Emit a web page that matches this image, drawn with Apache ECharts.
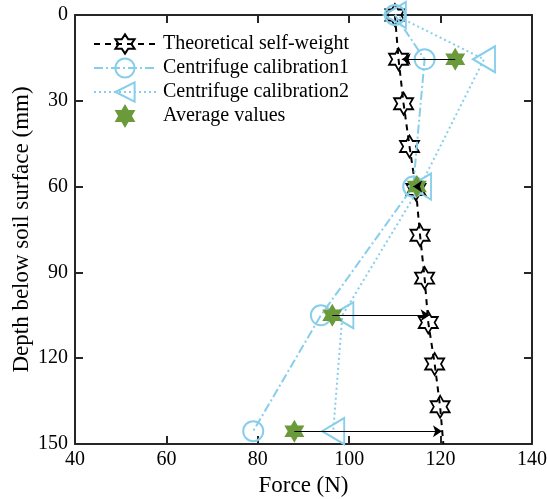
<!DOCTYPE html>
<html>
<head>
<meta charset="utf-8">
<script src="https://cdn.jsdelivr.net/npm/echarts@6/dist/echarts.min.js"></script>
<style>
html,body{margin:0;padding:0;background:#fff;}
#c{width:547px;height:499px;}
</style>
</head>
<body>
<div id="c"></div>
<script>
// ---- data ----
const xTicks = [40, 60, 80, 100, 120, 140];
const yTicks = [0, 30, 60, 90, 120, 150];

const theoDepth = [0, 15.5, 31, 46, 61, 77, 92, 107.5, 122, 137, 150];
const theoForce = [110.0, 110.8, 111.9, 113.2, 114.6, 115.5, 116.5, 117.3, 118.7, 119.9, 120.6];
const theoMarker = [true, true, true, true, true, true, true, true, true, true, false];

const calDepth = [0, 15.5, 60, 105, 145.5];
const cal1Force = [110, 116.5, 114, 93.8, 79];
const cal2Force = [110, 129.5, 115.5, 98.5, 96.5];

const avgDepth = [15.5, 60, 105, 145.5];
const avgForce = [123.2, 114.8, 96.3, 88];
const arrowTarget = [111.5, 114.0, 117.6, 120.3];

const names = ['Theoretical self-weight', 'Centrifuge calibration1', 'Centrifuge calibration2', 'Average values'];

// ---- styles ----
const FONT = "'Liberation Serif','Times New Roman',serif";
const AX = '#262626';
const BLUE = '#87CEEB';
const GREEN = '#6A9A3A';
const HEX = 'path://M50 0L64.43 25L93.3 25L78.87 50L93.3 75L64.43 75L50 100L35.57 75L6.7 75L21.13 50L6.7 25L35.57 25Z';
const TRI_LEFT = 'path://M0 50L86.6 0L86.6 100Z';

function pairs(xs, ys) { return xs.map((x, i) => [x, ys[i]]); }

const theoData = theoForce.map((x, i) => theoMarker[i] ? [x, theoDepth[i]] : { value: [x, theoDepth[i]], symbol: 'none' });
const arrowData = avgForce.map((x, i) => ({ coords: [[x, avgDepth[i]], [arrowTarget[i], avgDepth[i]]] }));

const baseX = {
  type: 'value', min: xTicks[0], max: xTicks[xTicks.length - 1], interval: 20,
  splitLine: { show: false },
  axisLine: { show: true, onZero: false, lineStyle: { color: AX, width: 2 } },
  axisTick: { show: true, inside: true, length: 8, lineStyle: { color: AX, width: 2 } }
};
const baseY = {
  type: 'value', min: yTicks[0], max: yTicks[yTicks.length - 1], interval: 30, inverse: true,
  splitLine: { show: false },
  axisLine: { show: true, onZero: false, lineStyle: { color: AX, width: 2 } },
  axisTick: { show: true, inside: true, length: 8, lineStyle: { color: AX, width: 2 } }
};

const chart = echarts.init(document.getElementById('c'), null, { renderer: 'canvas' });
chart.setOption({
  animation: false,
  backgroundColor: '#fff',
  textStyle: { fontFamily: FONT },
  grid: { left: 75, right: 15, top: 15, bottom: 55, containLabel: false, outerBoundsMode: 'none' },
  legend: {
    orient: 'vertical', left: 88, top: 27,
    itemWidth: 62, itemHeight: 24, itemGap: 0,
    data: names,
    textStyle: { fontFamily: FONT, fontSize: 20, lineHeight: 24, color: '#000', padding: [0, 0, 0, 2] }
  },
  xAxis: [
    Object.assign({}, baseX, {
      position: 'bottom',
      name: 'Force (N)', nameLocation: 'middle', nameGap: 30, nameMoveOverlap: false,
      nameTextStyle: { fontFamily: FONT, fontSize: 23, color: '#000' },
      axisLabel: { show: true, fontFamily: FONT, fontSize: 20, color: '#000', margin: 6 }
    }),
    Object.assign({}, baseX, { position: 'top', axisLabel: { show: false } })
  ],
  yAxis: [
    Object.assign({}, baseY, {
      position: 'left',
      name: 'Depth below soil surface (mm)', nameLocation: 'middle', nameGap: 42, nameMoveOverlap: false,
      nameTextStyle: { fontFamily: FONT, fontSize: 23, color: '#000' },
      axisLabel: { show: true, fontFamily: FONT, fontSize: 20, color: '#000', margin: 7 }
    }),
    Object.assign({}, baseY, { position: 'right', axisLabel: { show: false } })
  ],
  series: [
    {
      name: names[0], type: 'line', xAxisIndex: 0, yAxisIndex: 0, clip: false,
      data: theoData,
      symbol: HEX, symbolSize: [19, 22],
      lineStyle: { color: '#000', width: 2, type: [6, 5] },
      itemStyle: { color: 'rgba(255,255,255,0)', borderColor: '#000', borderWidth: 1.8 },
      z: 2
    },
    {
      name: names[1], type: 'line', xAxisIndex: 0, yAxisIndex: 0, clip: false,
      data: pairs(cal1Force, calDepth),
      symbol: 'circle', symbolSize: 20,
      lineStyle: { color: BLUE, width: 2, type: [9, 3, 2, 3] },
      itemStyle: { color: 'rgba(255,255,255,0)', borderColor: BLUE, borderWidth: 2 },
      z: 3
    },
    {
      name: names[2], type: 'line', xAxisIndex: 0, yAxisIndex: 0, clip: false,
      data: pairs(cal2Force, calDepth),
      symbol: TRI_LEFT, symbolSize: [22, 26],
      lineStyle: { color: BLUE, width: 2, type: [2, 3] },
      itemStyle: { color: 'rgba(255,255,255,0)', borderColor: BLUE, borderWidth: 2 },
      z: 4
    },
    {
      name: names[3], type: 'scatter', xAxisIndex: 0, yAxisIndex: 0, clip: false,
      data: pairs(avgForce, avgDepth),
      symbol: HEX, symbolSize: [20, 23],
      itemStyle: { color: GREEN, opacity: 1 },
      emphasis: { disabled: true },
      z: 5
    },
    {
      type: 'lines', coordinateSystem: 'cartesian2d', xAxisIndex: 0, yAxisIndex: 0,
      data: arrowData,
      symbol: ['none', 'arrow'], symbolSize: [0, 9],
      lineStyle: { color: '#000', width: 1.2, opacity: 1, curveness: 0 },
      z: 6
    }
  ]
});
</script>
</body>
</html>
